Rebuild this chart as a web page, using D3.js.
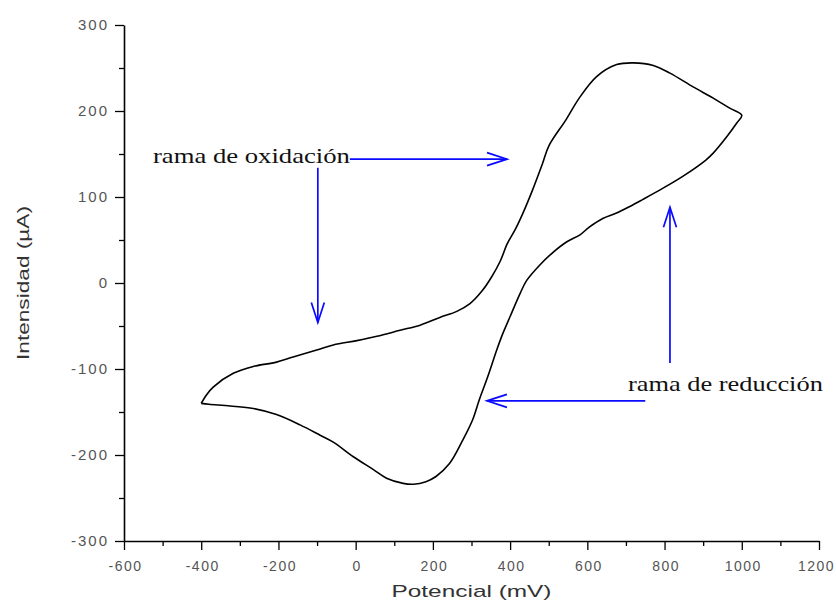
<!DOCTYPE html>
<html>
<head>
<meta charset="utf-8">
<script src="https://cdn.jsdelivr.net/npm/d3@7/dist/d3.min.js"></script>
<style>
  html, body { margin: 0; padding: 0; background: #fff; }
  svg { display: block; }
</style>
</head>
<body>
<svg id="chart" width="836" height="615"></svg>
<script>
// Cyclic voltammogram (mV, µA), in scan order
const potential = [
  -400, -380, -325, -265, -205, -144, -92, -58, -6, 46, 80, 123, 150, 182, 208, 243,
  277, 303, 320, 342, 366, 380, 400, 426, 443, 477, 512, 547, 581, 605, 640, 674,
  710, 743, 795, 847, 907, 926, 961, 987, 1000,
  970, 926, 874, 814, 771, 719, 676, 624, 579, 545, 501, 484, 458, 433, 413,
  393, 374, 352, 326, 296, 262, 218, 167, 115, 55, 3, -58, -101, -162, -205, -265,
  -317, -369, -386, -400,
];
const current = [
  -140, -141, -143, -146, -153, -165, -177, -185, -202, -217, -227, -233, -234, -231, -225, -210,
  -183, -159, -136, -109, -77, -60, -39, -12, 3, 21, 36, 48, 56, 65, 75, 81,
  89, 97, 110, 124, 143, 151, 170, 186, 195,
  203, 215, 228, 244, 253, 256, 254, 240, 215, 190, 160, 139, 108, 81, 62,
  46, 25, 7, -10, -24, -33, -40, -49, -55, -62, -67, -72, -78, -86, -92, -97,
  -105, -121, -130, -140,
];

const xTicks = [-600, -400, -200, 0, 200, 400, 600, 800, 1000, 1200];
const xMinor = [-500, -300, -100, 100, 300, 500, 700, 900, 1100];
const yTicks = [-300, -200, -100, 0, 100, 200, 300];
const yMinor = [-250, -150, -50, 50, 150, 250];

// annotation labels and arrows, in data units
const labels = [
  { text: "rama de oxidación", x: -525, y: 139, len: 197 },
  { text: "rama de reducción", x: 705, y: -126, len: 195 },
];
const arrows = [
  { x1: -15, y1: 144, x2: 392, y2: 144 },
  { x1: -98, y1: 134, x2: -98, y2: -46 },
  { x1: 814, y1: -93, x2: 814, y2: 88 },
  { x1: 750, y1: -137, x2: 340, y2: -137 },
];

const width = 836;
const height = 615;
const margin = { top: 25, right: 17, bottom: 74, left: 124 };

const svg = d3.select("#chart");

const x = d3.scaleLinear().domain([-600, 1200]).range([margin.left, width - margin.right]);
const y = d3.scaleLinear().domain([-300, 300]).range([height - margin.bottom, margin.top]);

const tickFont = "'Liberation Sans', Arial, sans-serif";

// Minor ticks
svg.append("g")
  .attr("transform", `translate(0,${y(-300)})`)
  .call(d3.axisBottom(x).tickValues(xMinor).tickSize(5).tickFormat(""))
  .call((g) => g.select(".domain").remove())
  .call((g) => g.selectAll("line").attr("stroke", "#000").attr("stroke-width", 1.3));

svg.append("g")
  .attr("transform", `translate(${x(-600)},0)`)
  .call(d3.axisLeft(y).tickValues(yMinor).tickSize(5).tickFormat(""))
  .call((g) => g.select(".domain").remove())
  .call((g) => g.selectAll("line").attr("stroke", "#000").attr("stroke-width", 1.3));

// Major axes
const xAxis = svg.append("g")
  .attr("transform", `translate(0,${y(-300)})`)
  .call(d3.axisBottom(x).tickValues(xTicks).tickSize(9).tickSizeOuter(0).tickPadding(11).tickFormat(d3.format("d")));

const yAxis = svg.append("g")
  .attr("transform", `translate(${x(-600)},0)`)
  .call(d3.axisLeft(y).tickValues(yTicks).tickSize(9).tickSizeOuter(0).tickPadding(6).tickFormat(d3.format("d")));

for (const g of [xAxis, yAxis]) {
  g.select(".domain").attr("stroke", "#000").attr("stroke-width", 1.6);
  g.selectAll(".tick line").attr("stroke", "#000").attr("stroke-width", 1.3);
  g.selectAll(".tick text")
    .attr("fill", "#555")
    .attr("font-family", tickFont)
    .attr("font-size", 15)
    .attr("letter-spacing", "2px")
    .text((d) => String(d));
}
xAxis.selectAll(".tick text")
  .attr("font-size", 14)
  .attr("letter-spacing", "1.5px")
  .attr("dx", (d) => (d === 1200 ? "-3px" : "1px"));

// Curve
svg.append("path")
  .datum(d3.range(potential.length))
  .attr("fill", "none")
  .attr("stroke", "#000")
  .attr("stroke-width", 1.6)
  .attr("stroke-linejoin", "round")
  .attr("d", d3.line()
    .x((i) => x(potential[i]))
    .y((i) => y(current[i]))
    .curve(d3.curveCatmullRom.alpha(0.5)));

// Axis titles
svg.append("text")
  .attr("x", (x(-600) + x(1200)) / 2)
  .attr("y", 597)
  .attr("text-anchor", "middle")
  .attr("font-family", tickFont)
  .attr("font-size", 17)
  .attr("fill", "#333")
  .attr("textLength", 160)
  .attr("lengthAdjust", "spacingAndGlyphs")
  .text("Potencial (mV)");

svg.append("text")
  .attr("transform", `translate(29,${y(0)}) rotate(-90)`)
  .attr("text-anchor", "middle")
  .attr("font-family", tickFont)
  .attr("font-size", 16)
  .attr("fill", "#333")
  .attr("textLength", 154)
  .attr("lengthAdjust", "spacingAndGlyphs")
  .text("Intensidad (µA)");

// Annotations
svg.append("g")
  .selectAll("text")
  .data(labels)
  .join("text")
  .attr("x", (d) => x(d.x))
  .attr("y", (d) => y(d.y))
  .attr("font-family", "'Liberation Serif', 'Times New Roman', serif")
  .attr("font-size", 21)
  .attr("fill", "#111")
  .attr("textLength", (d) => d.len)
  .attr("lengthAdjust", "spacingAndGlyphs")
  .text((d) => d.text);

const blue = "#0a0aff";
const arrowGroup = svg.append("g")
  .attr("fill", "none")
  .attr("stroke", blue)
  .attr("stroke-width", 1.7);

arrowGroup.selectAll("line")
  .data(arrows)
  .join("line")
  .attr("x1", (d) => x(d.x1))
  .attr("y1", (d) => y(d.y1))
  .attr("x2", (d) => x(d.x2))
  .attr("y2", (d) => y(d.y2));

// open V heads
arrowGroup.selectAll("path")
  .data(arrows)
  .join("path")
  .attr("d", (d) => {
    const tx = x(d.x2), ty = y(d.y2);
    const dx = tx - x(d.x1), dy = ty - y(d.y1);
    const len = Math.hypot(dx, dy);
    const ux = dx / len, uy = dy / len;
    const back = 20, half = 6.5;
    const bx = tx - ux * back, by = ty - uy * back;
    return `M${bx - uy * half},${by + ux * half}L${tx},${ty}L${bx + uy * half},${by - ux * half}`;
  });
</script>
</body>
</html>
